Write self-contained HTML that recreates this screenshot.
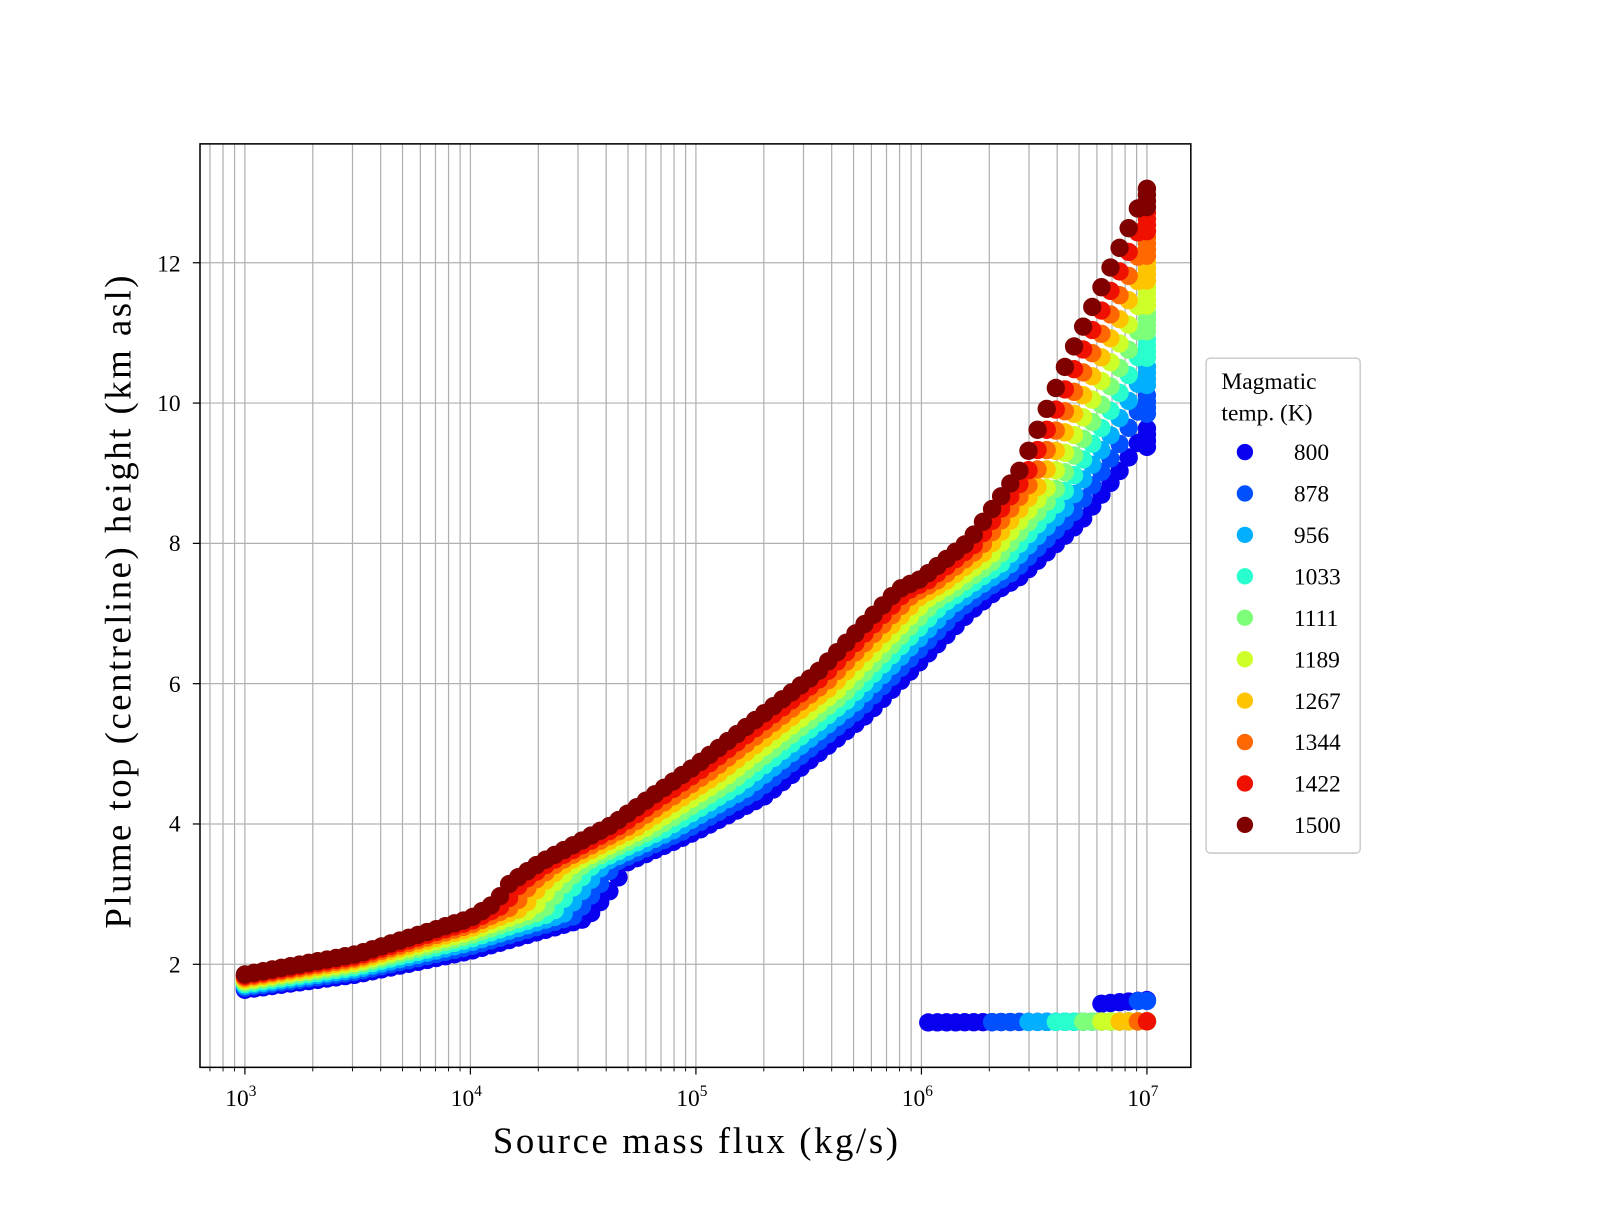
<!DOCTYPE html>
<html><head><meta charset="utf-8"><style>
html,body{margin:0;padding:0;background:#fff;}
svg text{font-family:"Liberation Serif","DejaVu Serif",serif;fill:#000;}
</style></head><body>
<svg id="s" width="1600" height="1200" xmlns="http://www.w3.org/2000/svg">
<rect width="1600" height="1200" fill="#fff"/>
<defs><clipPath id="c"><rect x="196" y="141" width="971" height="905"/></clipPath></defs>
<g transform="scale(1.020408)">
<g id="grid" stroke="#b0b0b0" stroke-width="1.2"></g>
<g id="pts" clip-path="url(#c)"></g>
<rect x="196" y="141" width="971" height="905" fill="none" stroke="#000" stroke-width="1.5"/>
<g id="ticks" stroke="#000"></g>
<g font-size="23" text-anchor="end">
<text x="177" y="953">2</text><text x="177" y="815">4</text><text x="177" y="678">6</text>
<text x="177" y="540">8</text><text x="177" y="403">10</text><text x="177" y="266">12</text>
</g>
<g font-size="23" text-anchor="middle">
<text x="236" y="1084">10<tspan dy="-10" font-size="15">3</tspan></text>
<text x="457" y="1084">10<tspan dy="-10" font-size="15">4</tspan></text>
<text x="678" y="1084">10<tspan dy="-10" font-size="15">5</tspan></text>
<text x="899" y="1084">10<tspan dy="-10" font-size="15">6</tspan></text>
<text x="1120" y="1084">10<tspan dy="-10" font-size="15">7</tspan></text>
</g>
<text x="483" y="1130" font-size="36" textLength="397" lengthAdjust="spacing">Source mass flux (kg/s)</text>
<text transform="translate(128,910) rotate(-90)" font-size="36" textLength="640" lengthAdjust="spacing">Plume top (centreline) height (km asl)</text>
<rect x="1182" y="351" width="151" height="485" rx="4" fill="#fff" stroke="#ccc" stroke-width="1.5"/>
<text x="1197" y="381" font-size="23">Magmatic</text>
<text x="1197" y="412" font-size="23">temp. (K)</text>
<g id="leg" font-size="23"></g>
</g>
</svg>
<script>
var ns="http://www.w3.org/2000/svg";
function el(p,t,a){var e=document.createElementNS(ns,t);for(var k in a)e.setAttribute(k,a[k]);p.appendChild(e);return e;}
var grid=document.getElementById('grid'),ticks=document.getElementById('ticks');
function xp(l){return 240+(l-3)*221;}
for(var d=2;d<=7;d++){for(var m=1;m<10;m++){var l=d+Math.log10(m);var x=xp(l);if(x<197||x>1166)continue;
el(grid,'line',{x1:x,y1:141,x2:x,y2:1046});
el(ticks,'line',{x1:x,y1:1046,x2:x,y2:1046+(m==1?7:4),'stroke-width':m==1?1.2:0.9});}}
for(var v=2;v<=12;v+=2){var y=1082.5-v*68.75;el(grid,'line',{x1:196,y1:y,x2:1167,y2:y});el(ticks,'line',{x1:189,y1:y,x2:196,y2:y,'stroke-width':1.2});}
var cols=['#0a00f0','#0050ff','#00b0ff','#29ffce','#7dff7a','#ceff29','#ffc400','#ff6800','#f01000','#800000'];
var labs=[800,878,956,1033,1111,1189,1267,1344,1422,1500];
var leg=document.getElementById('leg');
for(var i=0;i<10;i++){var y=443+40.6*i;el(leg,'circle',{cx:1220,cy:y,r:8,fill:cols[i]});var t=el(leg,'text',{x:1268,y:y+8});t.textContent=labs[i];}
var red=[[240,955],[350,935],[461,900],[485,885],[500,865],[530,845],[600,808],[682,750],[800,660],[880,578],[903,567],[950,530],[1000,460],[1050,345],[1124,185]];
var blue=[[240,970],[350,955],[461,932],[575,900],[600,870],[615,845],[682,815],[750,780],[850,700],[950,600],[975,580],[1000,565],[1060,510],[1100,458],[1124,420]];
function ip(c,x){for(var i=1;i<c.length;i++){if(x<=c[i][0]){var a=c[i-1],b=c[i];return a[1]+(b[1]-a[1])*(x-a[0])/(b[0]-a[0]);}}return c[c.length-1][1];}
var pts=document.getElementById('pts');
var starts=[908,965,1000,1030,1055,1075,1095,1110,1120,1200];
for(var k=0;k<10;k++){var f=Math.pow(k/9,0.9);
var cur=[];for(var q=0;q<red.length;q++)cur.push([blue[q][0]+(red[q][0]-blue[q][0])*f,blue[q][1]+(red[q][1]-blue[q][1])*f]);
for(var j=0;j<100;j++){var x=240+j*884/99;var y=ip(cur,x);
el(pts,'circle',{cx:x.toFixed(1),cy:y.toFixed(1),r:9,fill:cols[k]});
if(j==99){for(var z=1;z<4;z++)el(pts,'circle',{cx:x.toFixed(1),cy:(y+z*6).toFixed(1),r:9,fill:cols[k]});}}
for(var j=0;j<100;j++){var x=240+j*884/99;if(x<starts[k])continue;
var yy=1002-(x-908)*0.005;
el(pts,'circle',{cx:x.toFixed(1),cy:yy.toFixed(1),r:9,fill:cols[k]});
if(k==0&&x>1075)el(pts,'circle',{cx:x.toFixed(1),cy:(984-(x-1075)*0.08).toFixed(1),r:9,fill:cols[0]});
if(k==1&&x>1112)el(pts,'circle',{cx:x.toFixed(1),cy:981,r:9,fill:cols[1]});}}
</script>
</body></html>
